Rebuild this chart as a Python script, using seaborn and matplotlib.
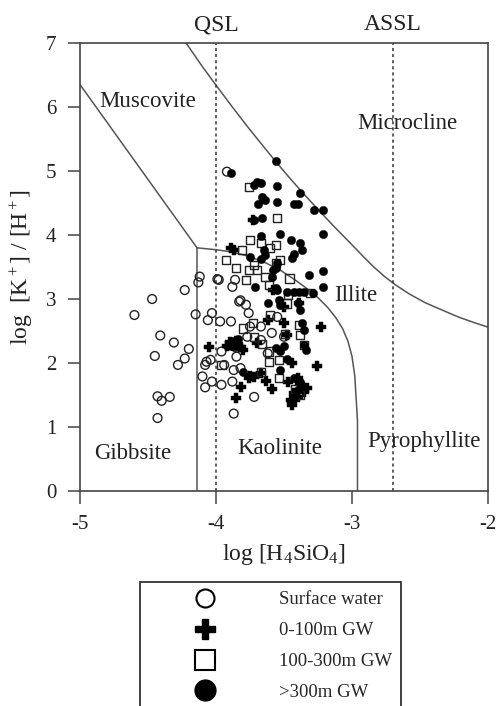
import pandas as pd
import matplotlib.pyplot as plt
from matplotlib.lines import Line2D
import seaborn as sns

# --- sample data: log[H4SiO4] (x) vs log([K+]/[H+]) (y) ---
sw_x = [-4.60, -4.47, -4.23, -4.13, -4.12, -4.15, -4.06, -4.41, -4.31, -4.45,
        -4.20, -4.23, -4.28, -4.08, -4.10, -4.08, -4.43, -4.40, -4.34, -4.43,
        -3.98, -4.03, -3.97, -3.89, -3.82, -3.76, -3.83, -3.78, -3.96, -4.04,
        -4.07, -3.94, -3.87, -4.03, -3.96, -3.88, -3.85, -3.82, -3.86, -3.72,
        -3.87, -3.77, -3.67, -3.62, -3.50, -3.75, -3.67, -3.55, -3.59, -3.92,
        -3.99, -3.88, -3.86]
sw_y = [2.75, 3.00, 3.14, 3.26, 3.35, 2.76, 2.67, 2.43, 2.32, 2.11,
        2.22, 2.07, 1.97, 1.97, 1.79, 1.62, 1.48, 1.41, 1.47, 1.14,
        3.30, 2.78, 2.65, 2.65, 2.98, 2.78, 2.96, 2.91, 2.18, 2.05,
        2.02, 1.97, 1.89, 1.71, 1.66, 1.71, 2.10, 1.92, 2.25, 1.47,
        1.21, 2.41, 2.36, 2.15, 2.41, 2.57, 2.57, 2.72, 2.47, 4.99,
        3.31, 3.19, 3.30]

gw1_x = [-3.73, -3.89, -3.87, -4.05, -3.90, -3.85, -3.87, -3.82, -3.70, -3.75,
         -3.59, -3.85, -3.50, -3.48, -3.44, -3.26, -3.23, -3.40, -3.37, -3.33,
         -3.43, -3.40, -3.44, -3.39, -3.50, -3.62, -3.58, -3.82, -3.76, -3.72,
         -3.67, -3.45, -3.44, -3.38, -3.80, -3.92, -3.63, -3.35, -3.47]
gw1_y = [4.23, 3.79, 3.77, 2.25, 2.33, 2.35, 2.28, 2.25, 2.31, 1.79,
         1.60, 1.45, 2.62, 2.44, 2.00, 1.95, 2.57, 1.76, 1.63, 1.61,
         1.53, 1.47, 1.40, 2.93, 2.88, 2.67, 3.14, 1.63, 1.76, 1.78,
         1.84, 1.42, 1.34, 1.67, 2.20, 2.27, 1.72, 1.55, 1.70]

gw2_x = [-3.76, -3.55, -3.75, -3.67, -3.56, -3.60, -3.81, -3.93, -3.85, -3.72,
         -3.76, -3.70, -3.53, -3.56, -3.78, -3.64, -3.46, -3.61, -3.47, -3.48,
         -3.60, -3.39, -3.38, -3.49, -3.35, -3.61, -3.61, -3.54, -3.96, -3.67,
         -3.54, -3.42, -3.80, -3.73, -3.38, -3.31, -3.66, -3.72]
gw2_y = [4.75, 4.26, 3.92, 3.87, 3.84, 3.79, 3.77, 3.61, 3.48, 3.53,
         3.45, 3.45, 3.61, 3.56, 3.30, 3.35, 3.32, 3.22, 3.06, 2.93,
         2.75, 2.59, 2.44, 2.46, 2.28, 2.18, 2.02, 2.05, 1.97, 1.86,
         1.76, 1.60, 2.54, 2.62, 1.50, 3.09, 2.30, 2.40]

gw3_x = [-3.56, -3.89, -3.70, -3.67, -3.72, -3.55, -3.38, -3.66, -3.64, -3.69,
         -3.55, -3.43, -3.40, -3.28, -3.21, -3.66, -3.21, -3.67, -3.53, -3.45,
         -3.38, -3.37, -3.43, -3.44, -3.21, -3.32, -3.21, -3.75, -3.65, -3.64,
         -3.67, -3.55, -3.56, -3.58, -3.59, -3.71, -3.56, -3.55, -3.48, -3.43,
         -3.39, -3.35, -3.29, -3.54, -3.53, -3.40, -3.38, -3.62, -3.37, -3.35,
         -3.35, -3.34, -3.56, -3.53, -3.50, -3.48, -3.88, -3.86, -3.89, -3.84,
         -3.53, -3.43, -3.38, -3.40, -3.43, -3.44, -3.80, -3.72]
gw3_y = [5.16, 4.97, 4.83, 4.81, 4.78, 4.77, 4.65, 4.60, 4.55, 4.49,
         4.51, 4.49, 4.49, 4.39, 4.39, 4.26, 4.02, 3.98, 4.02, 3.92,
         3.87, 3.77, 3.71, 3.64, 3.43, 3.38, 3.19, 3.66, 3.77, 3.69,
         3.63, 3.56, 3.48, 3.45, 3.35, 3.19, 3.17, 3.14, 3.11, 3.11,
         3.11, 3.11, 3.09, 2.98, 2.91, 2.93, 2.83, 2.93, 2.62, 2.52,
         2.28, 2.20, 2.23, 2.18, 2.26, 2.07, 2.34, 2.27, 2.27, 2.37,
         1.89, 1.76, 1.71, 1.58, 1.47, 1.40, 1.86, 4.23]

group_names = ['Surface water', '0-100m GW', '100-300m GW', '>300m GW']

# --- stability field boundaries (traced by eye) ---
gib_mus_x = [-5.0, -4.14]
gib_mus_y = [6.35, 3.80]
gib_kao_x = [-4.14, -4.14]
gib_kao_y = [3.80, 0.0]
kao_ill_x = [-4.14, -4.00, -3.87, -3.75, -3.63, -3.52, -3.42, -3.33, -3.25, -3.18,
             -3.12, -3.07, -3.03, -3.00, -2.98, -2.97, -2.96, -2.96]
kao_ill_y = [3.80, 3.77, 3.73, 3.66, 3.56, 3.44, 3.30, 3.16, 3.02, 2.87,
             2.71, 2.54, 2.34, 2.10, 1.80, 1.45, 1.10, 0.0]
mus_mic_x = [-4.22, -4.10, -4.00, -3.88, -3.76, -3.65, -3.55, -3.45, -3.35, -3.25,
             -3.14, -3.02, -2.92, -2.84, -2.76, -2.68, -2.58, -2.46, -2.34, -2.22,
             -2.10, -2.00]
mus_mic_y = [7.00, 6.63, 6.34, 6.00, 5.67, 5.38, 5.12, 4.87, 4.63, 4.40,
             4.15, 3.89, 3.67, 3.50, 3.35, 3.22, 3.08, 2.94, 2.83, 2.72,
             2.63, 2.56]
qsl_x = -4.0
assl_x = -2.7

sns.set_style('ticks')
plt.rcParams['font.family'] = ['Liberation Serif', 'DejaVu Serif']
plt.rcParams['mathtext.fontset'] = 'custom'
plt.rcParams['mathtext.rm'] = 'Liberation Serif'
plt.rcParams['mathtext.it'] = 'Liberation Serif:italic'
plt.rcParams['axes.unicode_minus'] = False

fig = plt.figure(figsize=(4.97, 7.06), dpi=100)
ax = fig.add_axes([0.161, 0.3045, 0.821, 0.6346])

line_col = '#555555'
ax.plot(gib_mus_x, gib_mus_y, color=line_col, lw=1.1)
ax.plot(gib_kao_x, gib_kao_y, color=line_col, lw=1.1)
ax.plot(kao_ill_x, kao_ill_y, color=line_col, lw=1.1)
ax.plot(mus_mic_x, mus_mic_y, color=line_col, lw=1.1)
for xv in (qsl_x, assl_x):
    ax.plot([xv, xv], [0, 7], color='#333333', lw=1.1, ls=(0, (2, 2)))

sns.scatterplot(x=sw_x, y=sw_y, marker='o', s=40, facecolors='none',
                edgecolor='#222222', linewidth=1.0, ax=ax, zorder=3)
sns.scatterplot(x=gw1_x, y=gw1_y, marker='P', s=55, color='black',
                edgecolor='black', linewidth=0.3, ax=ax, zorder=4)
sns.scatterplot(x=gw2_x, y=gw2_y, marker='s', s=34, facecolors='none',
                edgecolor='#222222', linewidth=1.0, ax=ax, zorder=5)
sns.scatterplot(x=gw3_x, y=gw3_y, marker='o', s=36, color='black',
                edgecolor='black', linewidth=0.3, ax=ax, zorder=6)

ax.set_xlim(-5, -2)
ax.set_ylim(0, 7)
ax.set_xticks([-5, -4, -3, -2])
ax.set_yticks(range(0, 8))
ax.tick_params(direction='out', length=9, width=1.1, pad=8, labelsize=15,
               color='#444444', labelcolor='#222222')
for sp in ax.spines.values():
    sp.set_color('#444444')
    sp.set_linewidth(1.2)

ax.set_xlabel('log [H$_4$SiO$_4$]', fontsize=17, labelpad=6, color='#222222')
ax.set_ylabel('log  [K$^+$] / [H$^+$]', fontsize=17, labelpad=8, color='#222222')

fs = 16.5
tc = '#222222'
ax.text(-4.50, 6.09, 'Muscovite', fontsize=fs, ha='center', va='center', color=tc)
ax.text(-2.59, 5.75, 'Microcline', fontsize=fs, ha='center', va='center', color=tc)
ax.text(-2.97, 3.06, 'Illite', fontsize=fs, ha='center', va='center', color=tc)
ax.text(-4.61, 0.58, 'Gibbsite', fontsize=fs, ha='center', va='center', color=tc)
ax.text(-3.53, 0.67, 'Kaolinite', fontsize=fs, ha='center', va='center', color=tc)
ax.text(-2.47, 0.78, 'Pyrophyllite', fontsize=fs, ha='center', va='center', color=tc)
ax.text(qsl_x, 7.12, 'QSL', fontsize=17, ha='center', va='bottom', color=tc)
ax.text(assl_x, 7.12, 'ASSL', fontsize=17, ha='center', va='bottom', color=tc)

handles = [
    Line2D([], [], ls='none', marker='o', ms=13, mfc='white', mec='black', mew=1.5),
    Line2D([], [], ls='none', marker='P', ms=15, mfc='black', mec='black'),
    Line2D([], [], ls='none', marker='s', ms=14, mfc='white', mec='black', mew=1.5),
    Line2D([], [], ls='none', marker='o', ms=15, mfc='black', mec='black'),
]
leg = fig.legend(handles, group_names, loc='upper left',
                 bbox_to_anchor=(140 / 497, 1 - 582 / 706),
                 fontsize=13.5, frameon=True, fancybox=False, borderpad=0.5,
                 handlelength=5.9, handletextpad=1.0, labelspacing=0.73,
                 borderaxespad=0)
leg.get_frame().set_edgecolor('black')
leg.get_frame().set_linewidth(1.3)

fig.savefig('out.png', dpi=100)
